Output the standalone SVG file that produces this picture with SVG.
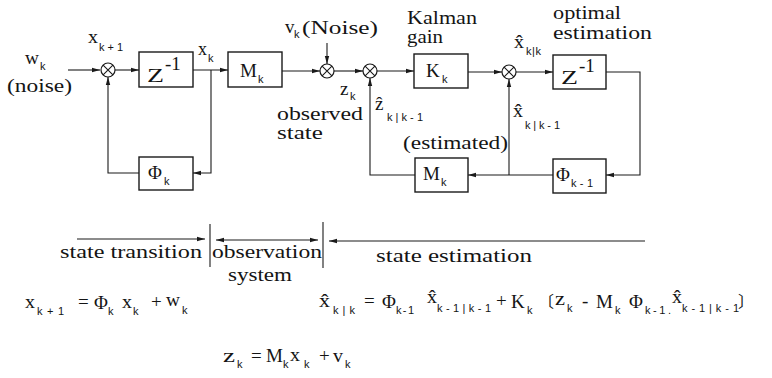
<svg xmlns="http://www.w3.org/2000/svg" width="772" height="378" viewBox="0 0 772 378">
<defs>
<style>
.bg{fill:#fff}
.box{fill:none;stroke:#1a1a1a;stroke-width:1.4}
.ln{fill:none;stroke:#1a1a1a;stroke-width:1.1}
.sum{fill:#fff;stroke:#1a1a1a;stroke-width:1.2}
.t{font-family:"Liberation Serif","Times New Roman",serif;fill:#141414;font-size:18px}
.m{font-family:"Liberation Serif","Times New Roman",serif;fill:#141414;font-size:19px}
.v{font-family:"Liberation Serif","Times New Roman",serif;fill:#141414;font-size:19px}
.s{font-family:"Liberation Sans","Arial",sans-serif;fill:#141414;font-size:11px}
.br{font-family:"Liberation Serif","Noto Sans CJK JP",serif;fill:#141414;font-size:16px}
</style>
<marker id="ar" viewBox="0 0 8 6" refX="8" refY="3" markerWidth="8" markerHeight="6" orient="auto" markerUnits="userSpaceOnUse">
<path d="M0,0.8 L8,3 L0,5.2 z" fill="#1a1a1a"/>
</marker>
<marker id="arS" viewBox="0 0 8 6" refX="0" refY="3" markerWidth="8" markerHeight="6" orient="auto" markerUnits="userSpaceOnUse">
<path d="M8,0.8 L0,3 L8,5.2 z" fill="#1a1a1a"/>
</marker>
<g id="sumShape">
<circle cx="0" cy="0" r="7" class="sum"/>
<path d="M-4.9,-4.9 L4.9,4.9 M-4.9,4.9 L4.9,-4.9" class="ln"/>
</g>
</defs>
<rect class="bg" x="0" y="0" width="772" height="378"/>

<g id="connectors">
<path class="ln" d="M68,70 H100" marker-end="url(#ar)"/>
<path class="ln" d="M115,70 H139" marker-end="url(#ar)"/>
<path class="ln" d="M193,70 H228" marker-end="url(#ar)"/>
<path class="ln" d="M211,70 V173 H193" marker-end="url(#ar)"/>
<path class="ln" d="M139,173 H108 V77" marker-end="url(#ar)"/>
<path class="ln" d="M282,71 H320" marker-end="url(#ar)"/>
<path class="ln" d="M327,43 V64" marker-end="url(#ar)"/>
<path class="ln" d="M334,71 H363" marker-end="url(#ar)"/>
<path class="ln" d="M377,71 H414" marker-end="url(#ar)"/>
<path class="ln" d="M468,72 H502" marker-end="url(#ar)"/>
<path class="ln" d="M516,72 H553" marker-end="url(#ar)"/>
<path class="ln" d="M606,72 H640 V175 H606" marker-end="url(#ar)"/>
<path class="ln" d="M553,175 H468" marker-end="url(#ar)"/>
<path class="ln" d="M509,175 V79" marker-end="url(#ar)"/>
<path class="ln" d="M415,175 H370 V78" marker-end="url(#ar)"/>
</g>

<g id="sum1"><use href="#sumShape" x="108" y="70"/></g>
<g id="sum2"><use href="#sumShape" x="327" y="71"/></g>
<g id="sum3"><use href="#sumShape" x="370" y="71"/></g>
<g id="sum4"><use href="#sumShape" x="509" y="72"/></g>

<g id="delay1">
<rect class="box" x="139" y="52" width="54" height="35"/>
<text class="m" x="147" y="82" font-size="23" textLength="17" lengthAdjust="spacingAndGlyphs">Z</text>
<text class="m" x="165" y="70" font-size="16">-1</text>
</g>
<g id="M_top">
<rect class="box" x="228" y="52" width="54" height="35"/>
<text class="m" x="240" y="77">M</text>
<text class="s" x="258" y="83">k</text>
</g>
<g id="Phi_k">
<rect class="box" x="139" y="157" width="54" height="33"/>
<text class="m" x="148" y="179">Φ</text>
<text class="s" x="164" y="185">k</text>
</g>
<g id="K_k">
<rect class="box" x="414" y="54" width="54" height="34"/>
<text class="m" x="426" y="77">K</text>
<text class="s" x="442" y="83">k</text>
</g>
<g id="delay2">
<rect class="box" x="553" y="55" width="53" height="34"/>
<text class="m" x="561" y="84" font-size="23" textLength="17" lengthAdjust="spacingAndGlyphs">Z</text>
<text class="m" x="579" y="72" font-size="16">-1</text>
</g>
<g id="Phi_km1">
<rect class="box" x="553" y="159" width="53" height="34"/>
<text class="m" x="556" y="181">Φ</text>
<text class="s" x="571" y="187" textLength="22">k-1</text>
</g>
<g id="M_low">
<rect class="box" x="415" y="158" width="53" height="34"/>
<text class="m" x="423" y="180">M</text>
<text class="s" x="441" y="186">k</text>
</g>

<g id="labels">
<text class="v" x="25" y="64" textLength="14" lengthAdjust="spacingAndGlyphs">w</text>
<text class="s" x="40" y="70">k</text>
<text class="t" x="7" y="92" textLength="65" lengthAdjust="spacingAndGlyphs">(noise)</text>
<text class="v" x="88" y="43" textLength="10" lengthAdjust="spacingAndGlyphs">x</text>
<text class="s" x="99" y="51" textLength="24">k+1</text>
<text class="v" x="198" y="55" textLength="9" lengthAdjust="spacingAndGlyphs">x</text>
<text class="s" x="208" y="62">k</text>
<text class="v" x="285" y="33">v</text>
<text class="s" x="294" y="38">k</text>
<text class="t" x="302" y="34" textLength="76" lengthAdjust="spacingAndGlyphs">(Noise)</text>
<text class="v" x="340" y="95">z</text>
<text class="s" x="350" y="100">k</text>
<text class="v" x="375" y="110">ẑ</text>
<text class="s" x="387" y="121" textLength="36">k|k-1</text>
<text class="t" x="277" y="120" font-size="17" textLength="86" lengthAdjust="spacingAndGlyphs">observed</text>
<text class="t" x="277" y="139" font-size="17" textLength="46" lengthAdjust="spacingAndGlyphs">state</text>
<text class="t" x="407" y="24" textLength="70" lengthAdjust="spacingAndGlyphs">Kalman</text>
<text class="t" x="407" y="43" textLength="36" lengthAdjust="spacingAndGlyphs">gain</text>
<text class="t" x="403" y="149" textLength="105" lengthAdjust="spacingAndGlyphs">(estimated)</text>
<text class="v" x="514" y="48" textLength="10" lengthAdjust="spacingAndGlyphs">x̂</text>
<text class="s" x="526" y="55" textLength="15">k|k</text>
<text class="v" x="513" y="117" textLength="10" lengthAdjust="spacingAndGlyphs">x̂</text>
<text class="s" x="525" y="129" textLength="35">k|k-1</text>
<text class="t" x="553" y="19" textLength="68" lengthAdjust="spacingAndGlyphs">optimal</text>
<text class="t" x="553" y="39" textLength="99" lengthAdjust="spacingAndGlyphs">estimation</text>
</g>

<g id="regions">
<path class="ln" d="M77,239 H205" marker-end="url(#ar)"/>
<path class="ln" d="M210,224 V267"/>
<path class="ln" d="M216,240 H318" marker-start="url(#arS)" marker-end="url(#ar)"/>
<path class="ln" d="M323,222 V268"/>
<path class="ln" d="M645,241 H329" marker-end="url(#ar)"/>
<text class="t" x="60" y="258" textLength="142" lengthAdjust="spacingAndGlyphs">state transition</text>
<text class="t" x="212" y="258" textLength="110" lengthAdjust="spacingAndGlyphs">observation</text>
<text class="t" x="228" y="281" textLength="64" lengthAdjust="spacingAndGlyphs">system</text>
<text class="t" x="376" y="262" textLength="156" lengthAdjust="spacingAndGlyphs">state estimation</text>
</g>

<g id="eq1">
<text class="v" x="25" y="308" textLength="10" lengthAdjust="spacingAndGlyphs">x</text>
<text class="s" x="37" y="315" textLength="27">k+1</text>
<text class="m" x="78" y="308">=</text>
<text class="m" x="94" y="309">Φ</text>
<text class="s" x="108" y="315">k</text>
<text class="v" x="122" y="308" textLength="10" lengthAdjust="spacingAndGlyphs">x</text>
<text class="s" x="133" y="315">k</text>
<text class="m" x="151" y="308">+</text>
<text class="v" x="166" y="306" textLength="14" lengthAdjust="spacingAndGlyphs">w</text>
<text class="s" x="182" y="314">k</text>
</g>
<g id="eq2">
<text class="v" x="223" y="362" textLength="12" lengthAdjust="spacingAndGlyphs">z</text>
<text class="s" x="237" y="368">k</text>
<text class="m" x="251" y="362">=</text>
<text class="m" x="266" y="362">M</text>
<text class="s" x="283" y="368">k</text>
<text class="v" x="290" y="361" textLength="10" lengthAdjust="spacingAndGlyphs">x</text>
<text class="s" x="304" y="368">k</text>
<text class="m" x="319" y="362">+</text>
<text class="v" x="333" y="362" textLength="10" lengthAdjust="spacingAndGlyphs">v</text>
<text class="s" x="345" y="368">k</text>
</g>
<g id="eq3">
<text class="v" x="319" y="307" textLength="11" lengthAdjust="spacingAndGlyphs">x̂</text>
<text class="s" x="333" y="314" textLength="22">k|k</text>
<text class="m" x="364" y="307">=</text>
<text class="m" x="382" y="308">Φ</text>
<text class="s" x="396" y="314" textLength="18">k-1</text>
<text class="v" x="427" y="303" textLength="10" lengthAdjust="spacingAndGlyphs">x̂</text>
<text class="s" x="437" y="312" textLength="54">k-1|k-1</text>
<text class="m" x="496" y="307">+</text>
<text class="m" x="511" y="308">K</text>
<text class="s" x="527" y="314">k</text>
<text class="br" x="538" y="307">〔</text>
<text class="v" x="555" y="305" textLength="10" lengthAdjust="spacingAndGlyphs">z</text>
<text class="s" x="567" y="312">k</text>
<text class="m" x="582" y="307">-</text>
<text class="m" x="596" y="308">M</text>
<text class="s" x="615" y="314">k</text>
<text class="m" x="629" y="308">Φ</text>
<text class="s" x="645" y="314" textLength="26">k-1.</text>
<text class="v" x="672" y="303" textLength="10" lengthAdjust="spacingAndGlyphs">x̂</text>
<text class="s" x="682" y="312" textLength="57">k-1|k-1</text>
<text class="br" x="738" y="307">〕</text>
</g>
</svg>
